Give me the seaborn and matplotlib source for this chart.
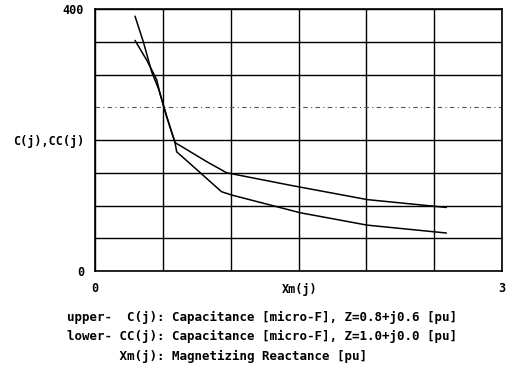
import matplotlib
matplotlib.use("Agg")
import matplotlib.pyplot as plt
import seaborn as sns
import pandas as pd

# Data
xm_c = [0.295, 0.356, 0.418, 0.472, 0.528, 0.590, 0.639, 0.823, 0.970, 1.437, 2.007, 2.590]
c_vals = [389, 350, 304, 276, 236, 196, 190, 167, 150, 131, 109, 97]
xm_cc = [0.295, 0.381, 0.455, 0.479, 0.528, 0.590, 0.602, 0.700, 0.933, 1.007, 1.511, 2.007, 2.590]
cc_vals = [352, 322, 292, 271, 236, 196, 182, 164, 121, 116, 89, 70, 58]

x_ticks = [0, 0.5, 1.0, 1.5, 2.0, 2.5, 3.0]
x_tick_labels = ["0", "", "", "", "", "", "3"]
y_ticks = [0, 50, 100, 150, 200, 250, 300, 350, 400]
y_tick_labels = ["0", "", "", "", "", "", "", "", "400"]

caption = [
    "upper-  C(j): Capacitance [micro-F], Z=0.8+j0.6 [pu]",
    "lower- CC(j): Capacitance [micro-F], Z=1.0+j0.0 [pu]",
    "       Xm(j): Magnetizing Reactance [pu]",
]

df = pd.concat([
    pd.DataFrame({"Xm": xm_c, "val": c_vals, "series": "C(j)"}),
    pd.DataFrame({"Xm": xm_cc, "val": cc_vals, "series": "CC(j)"}),
])

sns.set_style("white")
plt.rcParams["text.color"] = "black"
plt.rcParams["xtick.color"] = "black"
plt.rcParams["ytick.color"] = "black"
mono = "DejaVu Sans Mono"

fig = plt.figure(figsize=(5.12, 3.68), dpi=100)
ax = fig.add_axes([95/512, 1 - 271/368, (502-95)/512, (271-9)/368])

sns.lineplot(data=df, x="Xm", y="val", hue="series", palette=["black", "black"],
             sort=False, estimator=None, legend=False, linewidth=1.1, ax=ax)

ax.set_xlim(0, 3)
ax.set_ylim(0, 400)
ax.set_xticks(x_ticks)
ax.set_xticklabels(x_tick_labels, fontfamily=mono, fontweight="bold", fontsize=8.5, color="black")
ax.set_yticks(y_ticks)
ax.set_yticklabels(y_tick_labels, fontfamily=mono, fontweight="bold", fontsize=8.5, color="black")
ax.tick_params(length=0, pad=8)
ax.set_xlabel("")
ax.set_ylabel("")
ax.grid(True, color="black", linewidth=1.0)
ax.get_ygridlines()[5].set_linestyle((0, (4, 3, 1, 3)))
ax.get_ygridlines()[5].set_color("#555555")
ax.get_ygridlines()[5].set_linewidth(0.8)
for s in ax.spines.values():
    s.set_visible(True)
    s.set_color("black")
    s.set_linewidth(1.2)

fig.text(13/512, 1 - 141/368, "C(j),CC(j)", ha="left", va="center", color="black",
         fontfamily=mono, fontweight="bold", fontsize=8.5)
fig.text(300/512, 1 - 289/368, "Xm(j)", ha="center", va="center", color="black",
         fontfamily=mono, fontweight="bold", fontsize=8.5)

for i, line in enumerate(caption):
    fig.text(67/512, 1 - (317 + 19.5*i)/368, line, ha="left", va="center", color="black",
             fontfamily=mono, fontweight="bold", fontsize=9)

fig.savefig("out.png", dpi=100)
